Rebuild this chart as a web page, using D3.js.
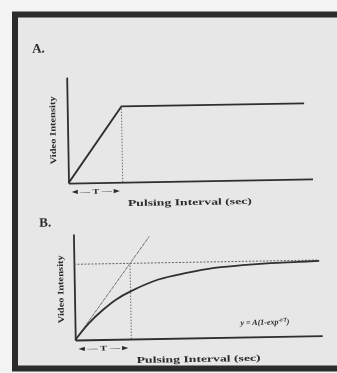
<!DOCTYPE html>
<html>
<head>
<meta charset="utf-8">
<script src="https://cdn.jsdelivr.net/npm/d3@7"></script>
<style>
  html, body { margin: 0; padding: 0; background: #f3f3f3; }
  svg { display: block; filter: blur(0.35px); }
  text { font-family: "Liberation Serif", "DejaVu Serif", serif; fill: #2a2a2a; }
</style>
</head>
<body>
<svg id="chart" width="337" height="373"></svg>
<script>
// ---- data (units: T = 1 sec, A = 1) ----
const panelLabels = ["A.", "B."];
const yAxisLabel = "Video Intensity";
const xAxisLabel = "Pulsing Interval (sec)";
const tMarker = "\u25C4\u2014 T \u2014\u25BA";
const equation = "y = A(1-exp";
const equationSup = "-t/T";
const equationEnd = ")";

// Panel A: linear ramp then plateau
const rampT = [0, 1, 4.37];
const rampY = [0, 1, 1];

// Panel B: saturating curve
const curveT = [0, 0.25, 0.5, 0.75, 1, 1.5, 2, 2.5, 3, 3.5, 4, 4.37];
const curveY = [0, 0.22, 0.39, 0.53, 0.63, 0.78, 0.86, 0.92, 0.95, 0.97, 0.98, 0.99];
const tangentT = [0, 1.35];
const tangentY = [0, 1.35];
const asymptoteT = [0, 4.35];
const asymptoteY = [1, 1];
const markerT = [1, 1];
const markerY = [0, 1];

const svg = d3.select("#chart");
const ink = "#2f2f2f";

// frame
svg.append("rect").attr("x", 15).attr("y", 14.5).attr("width", 340).attr("height", 354)
  .attr("fill", "#e7e7e7").attr("stroke", "#2b2b2b").attr("stroke-width", 6);

const content = svg.append("g").attr("transform", "rotate(-1, 190, 210)");

function panel(cfg) {
  const g = content.append("g");
  const x = d3.scaleLinear().domain([0, cfg.tmax]).range([cfg.x0, cfg.x1]);
  const y = d3.scaleLinear().domain([0, 1.4]).range([cfg.y0, cfg.y1]);
  const line = d3.line().x(d => x(d[0])).y(d => y(d[1]));

  // axes
  g.append("g").attr("transform", `translate(0,${cfg.y0})`)
    .call(d3.axisBottom(x).tickValues([]).tickSizeOuter(0));
  g.append("g").attr("transform", `translate(${cfg.x0},0)`)
    .call(d3.axisLeft(y).tickValues([]).tickSizeOuter(0));
  g.selectAll(".domain").attr("stroke", ink).attr("stroke-width", 1.8);

  cfg.draw(g, x, y, line);

  // labels
  g.append("text").attr("x", cfg.labelX).attr("y", cfg.labelY)
    .attr("font-size", 13).attr("font-weight", "bold").text(cfg.label);
  g.append("text")
    .attr("transform", `translate(${cfg.ylabX},${cfg.ylabY}) rotate(-90)`)
    .attr("text-anchor", "middle").attr("font-size", 8.5).attr("font-weight", "bold")
    .attr("textLength", 68).attr("lengthAdjust", "spacingAndGlyphs")
    .text(yAxisLabel);
  g.append("text").attr("x", (x(0) + x(1)) / 2).attr("y", cfg.y0 + 11)
    .attr("text-anchor", "middle").attr("font-size", 7).attr("font-weight", "bold")
    .attr("textLength", x(1) - x(0) - 2).attr("lengthAdjust", "spacingAndGlyphs")
    .text(tMarker);
  g.append("text").attr("x", cfg.xlabX).attr("y", cfg.y0 + 24)
    .attr("text-anchor", "middle").attr("font-size", 9).attr("font-weight", "bold")
    .attr("textLength", 124).attr("lengthAdjust", "spacingAndGlyphs")
    .text(xAxisLabel);
  return { x, y };
}

panel({
  tmax: 4.5, x0: 69, x1: 313, y0: 181, y1: 75,
  label: panelLabels[0], labelX: 35, labelY: 50,
  ylabX: 57, ylabY: 128, xlabX: 190,
  draw: (g, x, y, line) => {
    const pts = rampT.map((t, i) => [t, rampY[i]]);
    g.append("path").attr("d", line(pts)).attr("fill", "none")
      .attr("stroke", ink).attr("stroke-width", 1.8);
    g.append("path").attr("d", line(markerT.map((t, i) => [t, markerY[i]])))
      .attr("fill", "none").attr("stroke", "#555").attr("stroke-width", 0.8)
      .attr("stroke-dasharray", "1.5,1.5");
  }
});

panel({
  tmax: 4.4, x0: 73, x1: 320, y0: 338, y1: 232,
  label: panelLabels[1], labelX: 39, labelY: 224,
  ylabX: 62, ylabY: 287, xlabX: 196,
  draw: (g, x, y, line) => {
    g.append("path").attr("d", line(asymptoteT.map((t, i) => [t, asymptoteY[i]])))
      .attr("fill", "none").attr("stroke", "#555").attr("stroke-width", 0.9)
      .attr("stroke-dasharray", "2,1.5");
    g.append("path").attr("d", line(markerT.map((t, i) => [t, markerY[i]])))
      .attr("fill", "none").attr("stroke", "#555").attr("stroke-width", 0.8)
      .attr("stroke-dasharray", "1.5,1.5");
    g.append("path").attr("d", line(tangentT.map((t, i) => [t, tangentY[i]])))
      .attr("fill", "none").attr("stroke", "#666").attr("stroke-width", 0.9)
      .attr("stroke-dasharray", "4,0.8");
    const curve = d3.line().x(d => x(d[0])).y(d => y(d[1])).curve(d3.curveCatmullRom);
    g.append("path").attr("d", curve(curveT.map((t, i) => [t, curveY[i]])))
      .attr("fill", "none").attr("stroke", ink).attr("stroke-width", 1.8);
    const eq = g.append("text").attr("x", 263).attr("y", 326)
      .attr("text-anchor", "middle").attr("font-size", 8).attr("font-style", "italic")
      .attr("font-weight", "bold");
    eq.append("tspan").text(equation);
    eq.append("tspan").attr("dy", -3).attr("font-size", 5.5).text(equationSup);
    eq.append("tspan").attr("dy", 3).text(equationEnd);
  }
});
</script>
</body>
</html>
